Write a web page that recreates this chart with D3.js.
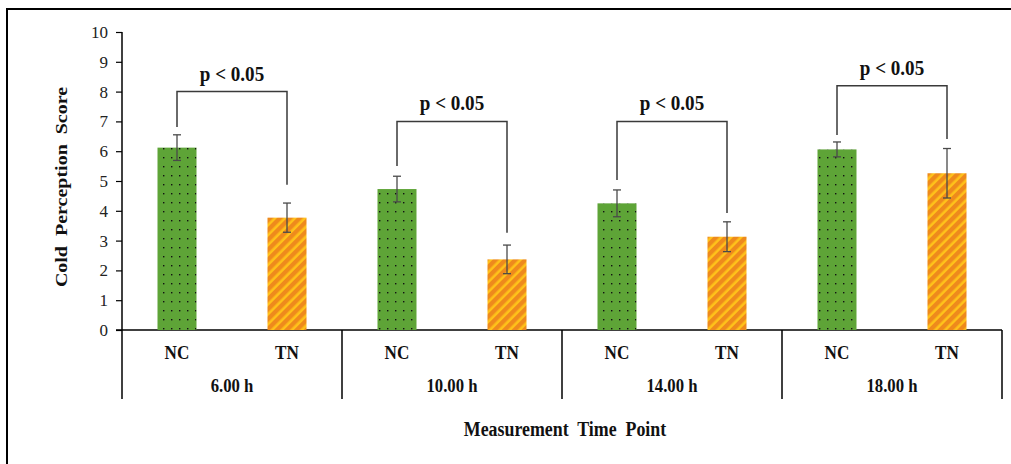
<!DOCTYPE html>
<html>
<head>
<meta charset="utf-8">
<script src="https://cdn.jsdelivr.net/npm/d3@7"></script>
<style>
  html, body { margin: 0; padding: 0; background: #fff; }
  svg text { font-family: "Liberation Serif", "Times New Roman", serif; }
</style>
</head>
<body>
<svg id="chart"></svg>
<script>
// ── data ──
const times   = ["6.00 h", "10.00 h", "14.00 h", "18.00 h"];
const groups  = ["NC", "TN"];
const ncMean  = [6.12, 4.73, 4.25, 6.06];
const ncErr   = [0.43, 0.43, 0.45, 0.25];
const tnMean  = [3.77, 2.37, 3.13, 5.26];
const tnErr   = [0.49, 0.48, 0.50, 0.83];
// significance brackets: top level, and where each leg stops
const brTop   = [8.0, 7.0, 7.0, 8.2];
const brNcEnd = [6.81, 5.5, 5.03, 6.54];
const brTnEnd = [4.87, 3.26, 3.93, 6.41];
const pText   = ["p < 0.05", "p < 0.05", "p < 0.05", "p < 0.05"];
const yTicks  = [0, 1, 2, 3, 4, 5, 6, 7, 8, 9, 10];

const W = 1011, H = 464;
const svg = d3.select("#chart").attr("width", W).attr("height", H);

const X0 = 122, X1 = 1002, Y0 = 330, Y10 = 32;
const y = d3.scaleLinear().domain([0, 10]).range([Y0, Y10]);
const xTime = d3.scaleBand().domain(times).range([X0, X1]).padding(0);
const xGrp  = d3.scaleBand().domain(groups).range([0, xTime.bandwidth()]).padding(0);
const barW = 39;
const SQ = 0.88;   // the source picture is squeezed sideways a bit

// patterns
const defs = svg.append("defs");
const dots = defs.append("pattern").attr("id", "dots")
    .attr("patternUnits", "userSpaceOnUse").attr("width", 8).attr("height", 9);
dots.append("rect").attr("width", 8).attr("height", 9).attr("fill", "#5ea437");
dots.append("rect").attr("x", 3).attr("y", 4).attr("width", 1.4).attr("height", 1.4).attr("fill", "#111");

const stripes = defs.append("pattern").attr("id", "stripes")
    .attr("patternUnits", "userSpaceOnUse").attr("width", 7).attr("height", 7)
    .attr("patternTransform", "rotate(45)");
stripes.append("rect").attr("width", 7).attr("height", 7).attr("fill", "#ffc21a");
stripes.append("rect").attr("width", 4.4).attr("height", 7).attr("fill", "#ee8a1c");

// outer frame (only top + left show in the crop)
svg.append("path").attr("d", `M7,${H} V9 H${W}`)
    .attr("fill", "none").attr("stroke", "#000").attr("stroke-width", 2);

// y axis
const yAx = svg.append("g").attr("transform", `translate(${X0},0)`)
    .call(d3.axisLeft(y).tickValues(yTicks).tickSize(6).tickPadding(8).tickFormat(d3.format("d")));
yAx.select(".domain").attr("stroke", "#000").attr("stroke-width", 1.5).attr("d", `M0,${Y0}V${Y10}`);
yAx.selectAll(".tick line").attr("stroke", "#000").attr("stroke-width", 1.2);
yAx.selectAll(".tick text").attr("font-size", "17px").attr("fill", "#222")
    .style("font-family", "Liberation Serif");

// x axis baseline + group dividers
svg.append("line").attr("x1", 116).attr("x2", X1).attr("y1", Y0).attr("y2", Y0)
    .attr("stroke", "#000").attr("stroke-width", 1.5);
const dividers = times.map(t => xTime(t)).concat([X1]);
svg.selectAll("line.div").data(dividers).join("line").attr("class", "div")
    .attr("x1", d => d).attr("x2", d => d).attr("y1", Y0).attr("y2", 399)
    .attr("stroke", "#000").attr("stroke-width", 1.5);

// bars
const rows = [];
times.forEach((t, i) => {
    rows.push({ t, g: "NC", v: ncMean[i], e: ncErr[i] });
    rows.push({ t, g: "TN", v: tnMean[i], e: tnErr[i] });
});
const cx = d => xTime(d.t) + xGrp(d.g) + xGrp.bandwidth() / 2;

svg.selectAll("rect.bar").data(rows).join("rect").attr("class", "bar")
    .attr("x", d => cx(d) - barW / 2).attr("width", barW)
    .attr("y", d => y(d.v)).attr("height", d => y(0) - y(d.v))
    .attr("fill", d => d.g === "NC" ? "url(#dots)" : "url(#stripes)");

// error bars
const eb = svg.selectAll("g.err").data(rows).join("g").attr("class", "err")
    .attr("stroke", "#4a4a4a").attr("stroke-width", 1.3);
eb.append("line").attr("x1", cx).attr("x2", cx)
    .attr("y1", d => y(d.v + d.e)).attr("y2", d => y(d.v - d.e));
eb.append("line").attr("x1", d => cx(d) - 4).attr("x2", d => cx(d) + 4)
    .attr("y1", d => y(d.v + d.e)).attr("y2", d => y(d.v + d.e));
eb.append("line").attr("x1", d => cx(d) - 4).attr("x2", d => cx(d) + 4)
    .attr("y1", d => y(d.v - d.e)).attr("y2", d => y(d.v - d.e));

// significance brackets
times.forEach((t, i) => {
    const xa = xTime(t) + xGrp("NC") + xGrp.bandwidth() / 2;
    const xb = xTime(t) + xGrp("TN") + xGrp.bandwidth() / 2;
    svg.append("path")
        .attr("d", `M${xa},${y(brNcEnd[i])} V${y(brTop[i])} H${xb} V${y(brTnEnd[i])}`)
        .attr("fill", "none").attr("stroke", "#3a3a3a").attr("stroke-width", 1.5);
    svg.append("text")
        .attr("transform", `translate(${(xa + xb) / 2},${y(brTop[i]) - 11}) scale(0.93,1)`)
        .attr("text-anchor", "middle").attr("font-size", "20.5px").attr("font-weight", 700)
        .attr("fill", "#111").text(pText[i]);
});

// category labels
svg.selectAll("text.grp").data(rows).join("text").attr("class", "grp")
    .attr("transform", d => `translate(${cx(d)},359) scale(${SQ},1)`)
    .attr("text-anchor", "middle")
    .attr("font-size", "19.5px").attr("font-weight", 700).attr("fill", "#111")
    .text(d => d.g);
svg.selectAll("text.time").data(times).join("text").attr("class", "time")
    .attr("transform", d => `translate(${xTime(d) + xTime.bandwidth() / 2},392) scale(${SQ},1)`)
    .attr("text-anchor", "middle").attr("font-size", "19px").attr("font-weight", 700)
    .attr("fill", "#111").text(d => d);

// axis titles
svg.append("text")
    .attr("transform", `translate(${(X0 + X1) / 2 + 3},436) scale(${SQ},1)`)
    .attr("text-anchor", "middle").attr("font-size", "20.3px").attr("font-weight", 700)
    .attr("fill", "#111").style("white-space", "pre")
    .text("Measurement  Time  Point");
svg.append("text").attr("transform", `translate(67,187) rotate(-90) scale(1,${SQ})`)
    .attr("text-anchor", "middle").attr("font-size", "20px").attr("font-weight", 700)
    .attr("fill", "#111").style("white-space", "pre")
    .text("Cold  Perception  Score");
</script>
</body>
</html>
